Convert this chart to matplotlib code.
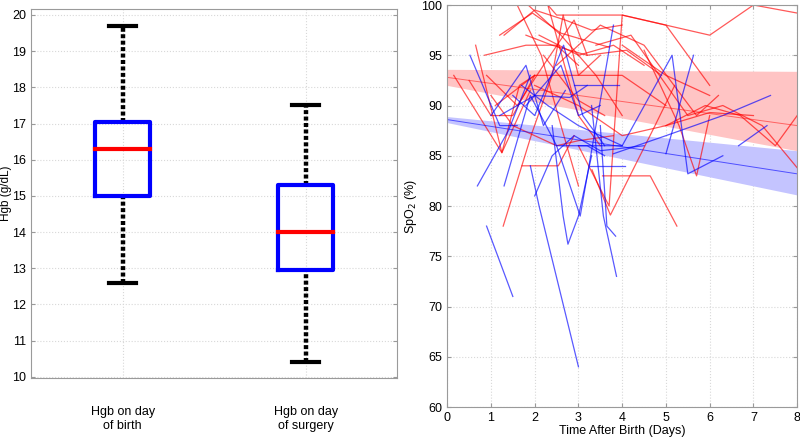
import numpy as np
import matplotlib.pyplot as plt

plt.rcParams['font.family'] = ['Liberation Sans', 'DejaVu Sans']

# ---- left panel: Hgb box summary
box_labels = ['Hgb on day\nof birth', 'Hgb on day\nof surgery']
whisk_lo = [12.6, 10.4]
q1 = [15.0, 12.95]
med = [16.3, 14.0]
q3 = [17.05, 15.3]
whisk_hi = [19.7, 17.5]

# ---- right panel: SpO2 trajectories (day, SpO2)
red_tracks = [
    [(2.3, 100), (2.5, 99), (4.0, 99), (6.0, 97), (7.0, 100), (8.0, 99.2)],
    [(0.15, 93), (1.25, 85.3), (1.65, 92), (2.0, 93)],
    [(0.65, 96), (1.25, 85.3), (1.9, 91.5)],
    [(0.85, 95), (1.8, 96), (2.5, 96), (3.0, 94)],
    [(1.2, 97), (1.95, 99.2), (2.6, 97.2), (3.7, 95.8)],
    [(1.6, 100), (2.15, 95), (2.6, 88), (3.0, 82)],
    [(1.85, 100), (2.6, 97), (3.4, 93), (4.0, 89)],
    [(2.3, 100), (3.0, 89), (3.5, 86)],
    [(1.28, 78), (1.94, 87.3), (2.4, 93), (2.65, 99), (3.0, 93), (3.5, 95)],
    [(1.71, 84), (2.54, 84), (2.9, 87)],
    [(3.55, 83), (4.64, 83), (5.25, 78)],
    [(3.31, 83.6), (3.73, 79.1), (4.75, 88), (5.2, 92)],
    [(3.0, 86), (3.7, 80), (4.0, 99), (5.0, 98), (6.0, 92)],
    [(4.0, 96), (5.0, 93), (6.0, 91)],
    [(3.4, 96), (4.2, 97), (5.5, 89), (6.3, 90), (7.2, 88), (8.0, 83.8)],
    [(5.0, 88), (5.9, 90), (6.7, 89), (7.5, 86), (8.0, 89)],
    [(2.0, 92), (3.0, 90), (4.0, 87), (5.0, 88), (6.0, 89.3), (7.0, 89)],
    [(2.5, 94), (3.5, 98), (4.5, 96), (5.7, 89), (6.2, 91)],
    [(1.1, 90), (2.0, 93), (3.0, 93), (4.0, 93), (5.0, 90)],
    [(0.5, 92.5), (1.0, 89), (1.5, 89), (2.0, 93)],
    [(2.1, 97), (3.0, 95), (3.8, 96), (4.5, 94)],
    [(1.0, 91), (1.5, 88), (2.5, 86), (3.0, 86.5), (3.8, 87)],
    [(2.2, 95), (3.0, 90.5), (3.6, 89)],
    [(4.5, 95.5), (5.3, 88), (5.7, 83), (6.0, 89)],
    [(1.3, 97), (2.0, 99.5), (2.7, 98.5), (3.3, 97.5), (4.0, 98)],
    [(1.8, 97), (2.4, 96), (3.2, 95), (4.1, 95.5), (4.9, 93)],
    [(0.9, 93), (1.6, 90), (2.2, 94), (2.9, 98.5), (3.2, 95)],
]
blue_tracks = [
    [(0.9, 78), (1.5, 71)],
    [(1.9, 84), (2.1, 80), (3.0, 64)],
    [(2.4, 88), (2.65, 79), (2.76, 76.2), (3.0, 79), (3.3, 85)],
    [(3.3, 90), (3.57, 79), (3.87, 73)],
    [(3.5, 88), (3.65, 78), (3.85, 77)],
    [(2.5, 86), (3.04, 79), (3.8, 98)],
    [(3.0, 86), (4.0, 86), (5.14, 95), (5.5, 83.2), (6.3, 85)],
    [(5.0, 85.2), (5.63, 95)],
    [(3.8, 85.2), (5.0, 87), (6.3, 89), (7.39, 91)],
    [(6.66, 86), (7.31, 88)],
    [(0.52, 95), (1.2, 88), (1.6, 88)],
    [(0.69, 82), (1.4, 87.5), (1.9, 93)],
    [(2.89, 92), (3.92, 92)],
    [(3.27, 84), (4.07, 84)],
    [(1.5, 91), (2.0, 89), (2.66, 96), (3.1, 89), (3.6, 86)],
    [(1.0, 89), (1.8, 94), (2.2, 88), (2.7, 91.5)],
    [(1.3, 82), (1.9, 91), (2.5, 86), (3.2, 86), (3.6, 85)],
    [(1.2, 89), (2.0, 91), (2.8, 90.8), (3.2, 92)],
    [(2.0, 81), (2.4, 85), (2.9, 87), (3.5, 85.5), (4.5, 86)],
    [(1.7, 92), (2.3, 90), (3.0, 88), (3.5, 87), (4.0, 86)],
    [(1.8, 90), (2.6, 94), (3.0, 89), (3.5, 90)],
]

# model fits: (day, center, lower, upper)
fit_days = [0, 8]
red_fit = [92.8, 88.0]
red_lo = [92.0, 85.5]
red_hi = [93.6, 93.4]
blue_fit = [88.6, 83.2]
blue_lo = [88.3, 81.1]
blue_hi = [88.9, 85.5]

fig = plt.figure(figsize=(8, 4.4), dpi=100)
grid_kw = dict(color='#d8d8d8', linestyle=':', linewidth=0.8)


def matlab_axes(ax):
    ax.grid(True, **grid_kw)
    ax.set_axisbelow(True)
    for s in ax.spines.values():
        s.set_color('#9a9a9a')
        s.set_linewidth(0.8)
    ax.tick_params(direction='in', length=3, color='#9a9a9a', labelsize=9,
                   top=True, right=True)


# ----- left
ax1 = fig.add_axes([0.039, 0.141, 0.4575, 0.839])
pos = [1, 2]
hw = 0.15
cw = 0.075
for i, x in enumerate(pos):
    for a, b in [(whisk_lo[i], q1[i]), (q3[i], whisk_hi[i])]:
        ax1.plot([x, x], [a, b], color='k', lw=3.2, dashes=(0.9, 0.55))
    ax1.plot([x - cw, x + cw], [whisk_lo[i]] * 2, color='k', lw=3)
    ax1.plot([x - cw, x + cw], [whisk_hi[i]] * 2, color='k', lw=3)
    ax1.plot([x - hw, x + hw, x + hw, x - hw, x - hw],
             [q1[i], q1[i], q3[i], q3[i], q1[i]], color='#0000ff', lw=3,
             solid_joinstyle='round')
    ax1.plot([x - hw, x + hw], [med[i]] * 2, color='#ff0000', lw=3)
ax1.set_xlim(0.5, 2.5)
ax1.set_ylim(9.97, 20.17)
ax1.set_yticks(range(10, 21))
ax1.set_xticks(pos)
ax1.set_xticklabels(box_labels, fontsize=9)
matlab_axes(ax1)
ax1.tick_params(axis='x', pad=20, length=0)
ax1.set_ylabel('Hgb (g/dL)', fontsize=8.5, labelpad=0)

# ----- right
ax2 = fig.add_axes([0.559, 0.075, 0.4375, 0.9136])
ax2.fill_between(fit_days, red_lo, red_hi, color='#ffc4c4', lw=0)
ax2.fill_between(fit_days, blue_lo, blue_hi, color='#c4c4ff', lw=0)
for tr in red_tracks:
    t, v = zip(*tr)
    ax2.plot(t, v, color='#ff0000', lw=0.9, alpha=0.65)
for tr in blue_tracks:
    t, v = zip(*tr)
    ax2.plot(t, v, color='#0000ff', lw=0.9, alpha=0.65)
ax2.plot(fit_days, red_fit, color='#ff0000', lw=0.7, alpha=0.5)
ax2.plot(fit_days, blue_fit, color='#0000ff', lw=0.7, alpha=0.6)
ax2.set_xlim(0, 8)
ax2.set_ylim(60, 100)
ax2.set_xticks(range(0, 9))
ax2.set_yticks(range(60, 101, 5))
matlab_axes(ax2)
ax2.set_xlabel('Time After Birth (Days)', fontsize=9, labelpad=1)
ax2.set_ylabel('SpO$_2$ (%)', fontsize=9, labelpad=2)

fig.savefig('out.png', dpi=100)
